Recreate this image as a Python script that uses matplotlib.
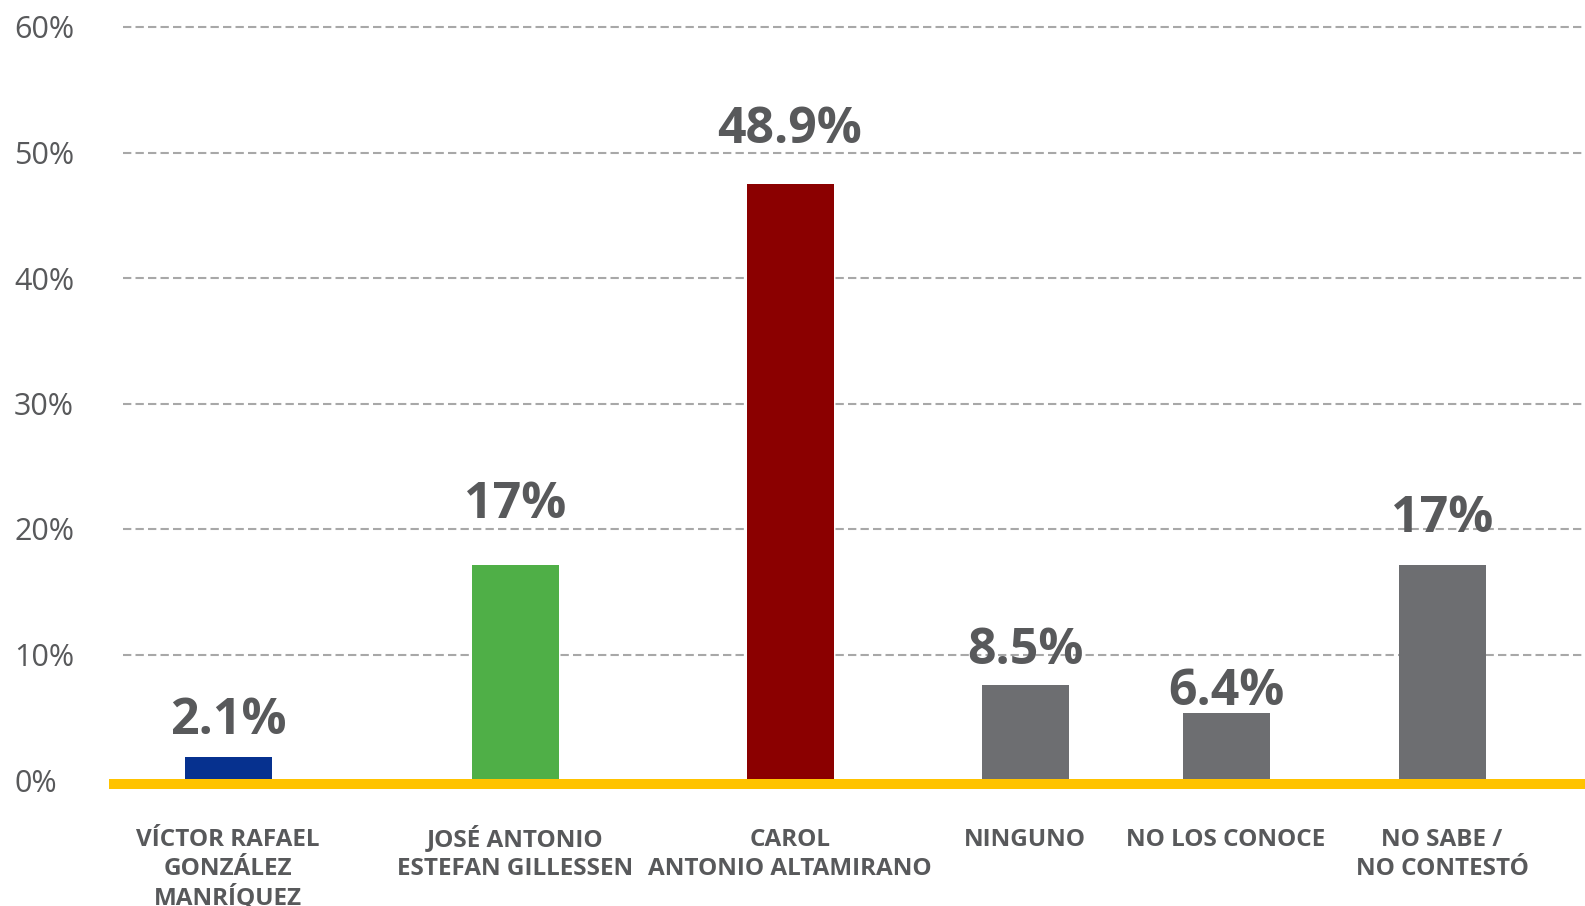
import matplotlib
matplotlib.use('Agg')
import matplotlib.pyplot as plt

# candidates / answers
categories = ['VÍCTOR RAFAEL\nGONZÁLEZ\nMANRÍQUEZ',
              'JOSÉ ANTONIO\nESTEFAN GILLESSEN',
              'CAROL\nANTONIO ALTAMIRANO',
              'NINGUNO',
              'NO LOS CONOCE',
              'NO SABE /\nNO CONTESTÓ']
# bar heights as drawn in the picture (%)
bar_heights = [1.8, 17.1, 47.5, 7.6, 5.3, 17.1]
# value labels printed above the bars
value_labels = ['2.1%', '17%', '48.9%', '8.5%', '6.4%', '17%']
yticks = [0, 10, 20, 30, 40, 50, 60]
ytick_labels = ['0%', '10%', '20%', '30%', '40%', '50%', '60%']

# layout (pixel-like x units, figure is 1585 px wide)
x_pos = [228, 515, 790, 1025, 1226, 1442]
label_gap = [23, 47, 41, 21, 8, 33]   # px between bar top and label baseline
colors = ['#06318F', '#4FAF47', '#8B0000', '#6D6E71', '#6D6E71', '#6D6E71']
text_col = '#58595B'

W, H = 1585, 906
y0_px, y60_px = 780, 27
fig = plt.figure(figsize=(W / 100, H / 100), dpi=100)
ax = fig.add_axes([109 / W, (H - y0_px) / H, (W - 109) / W, (y0_px - y60_px) / H])
ax.set_xlim(109, W)
ax.set_ylim(0, 60)
for s in ax.spines.values():
    s.set_visible(False)
ax.set_xticks([])
ax.set_yticks([])

for t in yticks[1:]:
    ax.plot([123, W], [t, t], color='#A8A8A8', lw=1.5, dashes=(4, 2),
            zorder=1, clip_on=False, solid_capstyle='butt')

ax.bar(x_pos, bar_heights, width=87, color=colors, zorder=2)
ax.plot([109, W], [-0.3, -0.3], color='#FFC300', lw=7.2, zorder=3,
        clip_on=False, solid_capstyle='butt')

for t, lab in zip(yticks, ytick_labels):
    ax.text((14 - 109) / (W - 109), t, lab, transform=ax.get_yaxis_transform(),
            ha='left', va='center_baseline', fontsize=22, color=text_col,
            family='Open Sans', clip_on=False)

for x, h, lab, g in zip(x_pos, bar_heights, value_labels, label_gap):
    ax.annotate(lab, (x, h), xytext=(0, g * 0.72), textcoords='offset points',
                ha='center', va='baseline', fontsize=36, fontweight='bold',
                color=text_col, family='Open Sans', zorder=4)

# category names, one line at a time so accents do not shift the lines
for x, cat in zip(x_pos, categories):
    for i, line in enumerate(cat.split('\n')):
        base_px = 846 + 29 * i
        ax.annotate(line, (x, 0), xytext=(0, -(base_px - y0_px) * 0.72),
                    textcoords='offset points', ha='center', va='baseline',
                    fontsize=17.5, fontweight='bold', color=text_col,
                    family='Open Sans', annotation_clip=False)

fig.savefig('out.png', dpi=100)
